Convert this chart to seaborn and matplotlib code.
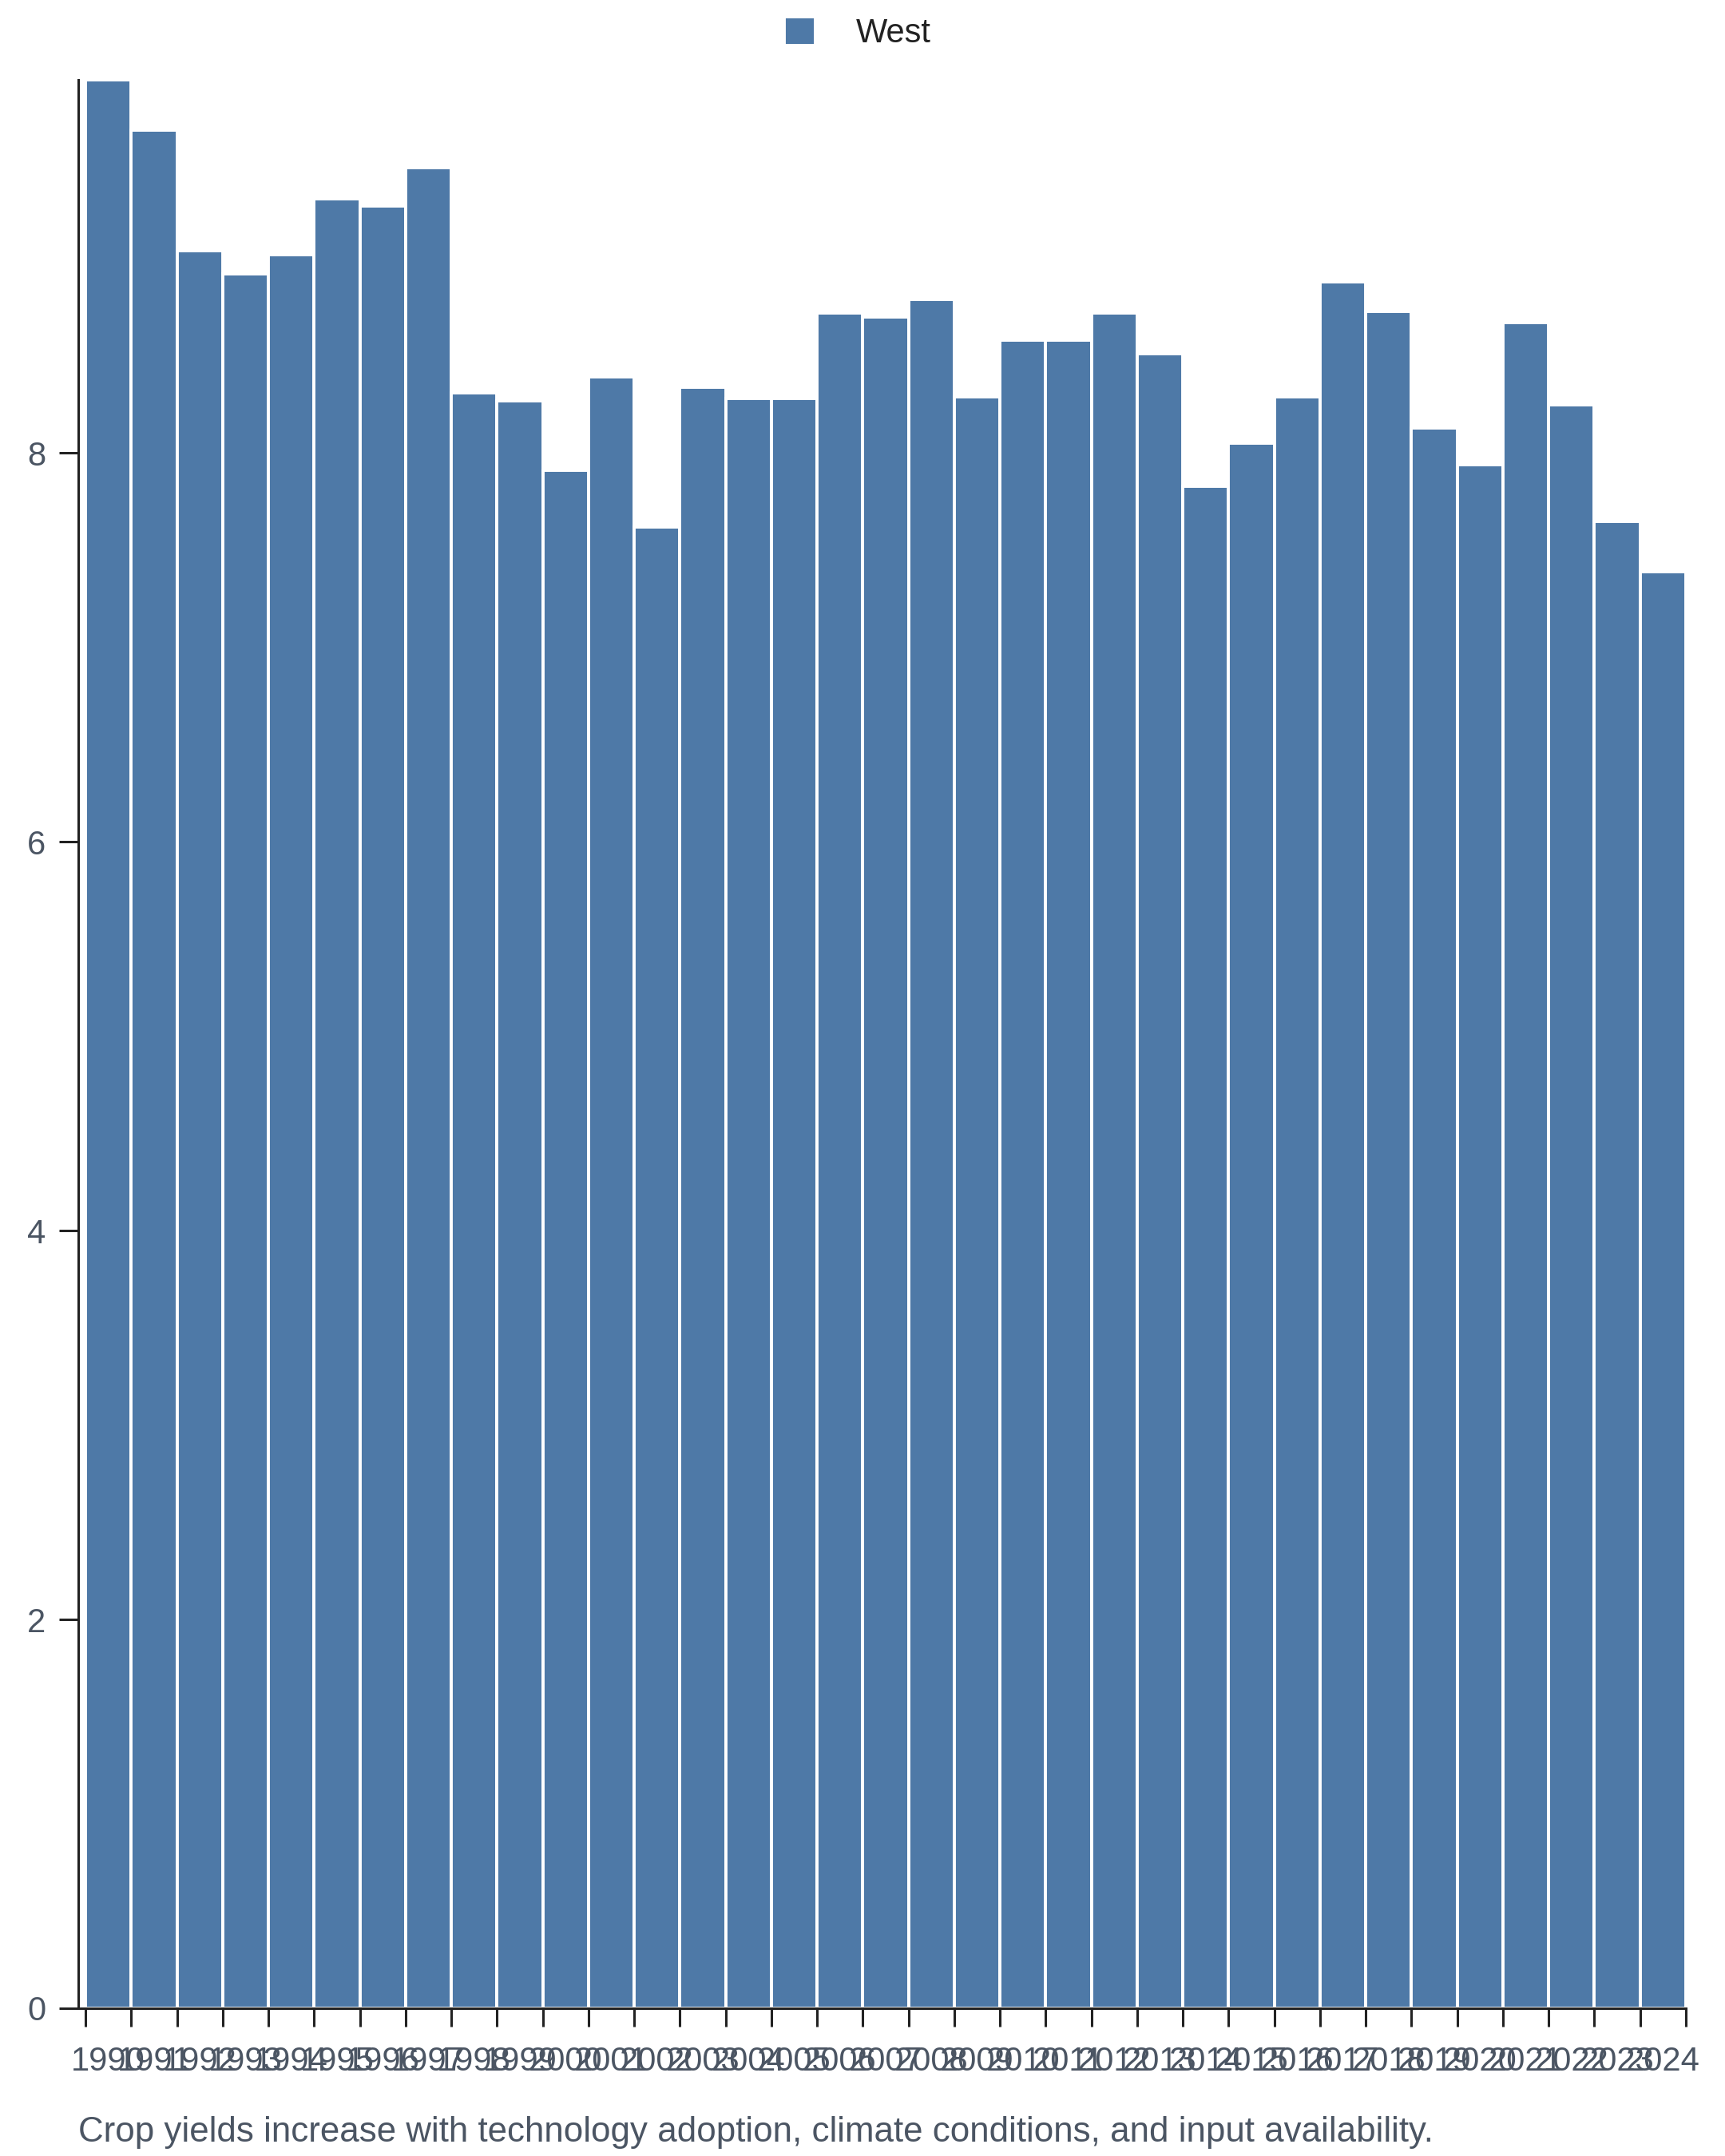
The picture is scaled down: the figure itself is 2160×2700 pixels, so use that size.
import pandas as pd
import seaborn as sns
import matplotlib.pyplot as plt

# crop yield, West region
years = list(range(1990, 2025))
yields = [9.92, 9.66, 9.04, 8.92, 9.02, 9.31, 9.27, 9.47, 8.31, 8.27,
          7.91, 8.39, 7.62, 8.34, 8.28, 8.28, 8.72, 8.70, 8.79, 8.29,
          8.58, 8.58, 8.72, 8.51, 7.83, 8.05, 8.29, 8.88, 8.73, 8.13,
          7.94, 8.67, 8.25, 7.65, 7.39]
region = 'West'
y_ticks = [0, 2, 4, 6, 8]
caption = 'Crop yields increase with technology adoption, climate conditions, and input availability.'

BAR = '#4e79a7'
INK = '#222222'
GREY = '#4b5563'

sns.set_style('ticks')
plt.rcParams['font.family'] = ['Liberation Sans', 'DejaVu Sans']

df = pd.DataFrame({'year': [str(y) for y in years], 'yield': yields, 'region': region})

fig = plt.figure(figsize=(10.8, 13.5), dpi=200)
ax = fig.add_axes([98 / 2160, 185 / 2700, 2013 / 2160, 2415 / 2700])

sns.barplot(data=df, x='year', y='yield', hue='region', palette=[BAR],
            width=1, saturation=1, edgecolor='white', linewidth=1.4, ax=ax)

ax.set_xlim(-0.657, len(years) - 0.5)
ax.set_ylim(0, max(yields))
ax.set_xlabel('')
ax.set_ylabel('')
sns.despine(ax=ax)
for s in ['left', 'bottom']:
    ax.spines[s].set_color(INK)
    ax.spines[s].set_linewidth(1.1)

# labels on bar centres, tick marks on bar edges
ax.set_xticks(range(len(years)))
ax.set_xticklabels([str(y) for y in years])
ax.set_xticks([i - 0.5 for i in range(len(years) + 1)], minor=True)
ax.tick_params(axis='x', which='major', length=0, pad=17, labelsize=15, labelcolor=GREY)
ax.tick_params(axis='x', which='minor', length=8.3, width=1.1, color=INK)
ax.set_yticks(y_ticks)
ax.tick_params(axis='y', length=8.6, width=1.1, color=INK, pad=6, labelsize=15, labelcolor=GREY)

sns.move_legend(ax, 'upper center', bbox_to_anchor=(0.497, 1.0), bbox_transform=fig.transFigure,
                frameon=False, title=None, fontsize=15, handlelength=0.95, handleheight=0.95,
                handletextpad=1.2, borderaxespad=0.1)
for t in ax.get_legend().get_texts():
    t.set_color(INK)

fig.text(98 / 2160, 1 - 2682 / 2700, caption, ha='left', va='baseline', fontsize=15.8, color=GREY)

fig.savefig('out.png', dpi=200)
